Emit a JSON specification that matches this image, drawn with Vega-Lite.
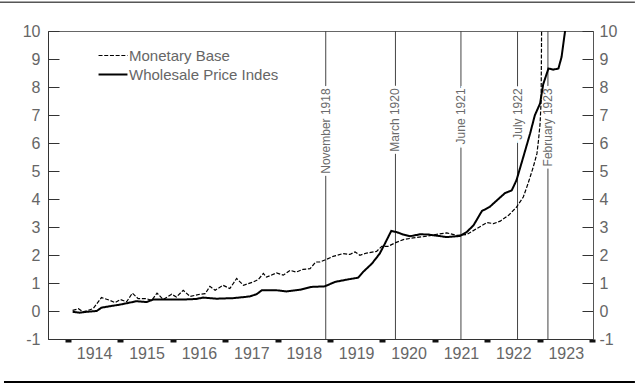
{
  "$schema": "https://vega.github.io/schema/vega-lite/v6.json",
  "width": 545,
  "height": 308,
  "autosize": {"type": "none"},
  "padding": {"left": 48, "top": 31, "right": 47, "bottom": 48},
  "config": {
    "view": {"stroke": "#666", "strokeWidth": 1},
    "font": "Liberation Sans",
    "axis": {"grid": false, "labelFont": "Liberation Sans", "labelFontSize": 16, "labelColor": "#666", "domainColor": "#333", "title": null}
  },
  "datasets": {
    "series": [
      {"t": 1914.09, "v": -0.03, "s": "Wholesale Price Indes"},
      {"t": 1914.23, "v": -0.06, "s": "Wholesale Price Indes"},
      {"t": 1914.36, "v": -0.03, "s": "Wholesale Price Indes"},
      {"t": 1914.55, "v": 0.0, "s": "Wholesale Price Indes"},
      {"t": 1914.64, "v": 0.12, "s": "Wholesale Price Indes"},
      {"t": 1914.80, "v": 0.17, "s": "Wholesale Price Indes"},
      {"t": 1915.00, "v": 0.23, "s": "Wholesale Price Indes"},
      {"t": 1915.18, "v": 0.30, "s": "Wholesale Price Indes"},
      {"t": 1915.31, "v": 0.35, "s": "Wholesale Price Indes"},
      {"t": 1915.50, "v": 0.32, "s": "Wholesale Price Indes"},
      {"t": 1915.63, "v": 0.41, "s": "Wholesale Price Indes"},
      {"t": 1915.88, "v": 0.41, "s": "Wholesale Price Indes"},
      {"t": 1916.20, "v": 0.41, "s": "Wholesale Price Indes"},
      {"t": 1916.45, "v": 0.43, "s": "Wholesale Price Indes"},
      {"t": 1916.58, "v": 0.48, "s": "Wholesale Price Indes"},
      {"t": 1916.84, "v": 0.44, "s": "Wholesale Price Indes"},
      {"t": 1917.16, "v": 0.46, "s": "Wholesale Price Indes"},
      {"t": 1917.47, "v": 0.52, "s": "Wholesale Price Indes"},
      {"t": 1917.60, "v": 0.60, "s": "Wholesale Price Indes"},
      {"t": 1917.70, "v": 0.74, "s": "Wholesale Price Indes"},
      {"t": 1917.98, "v": 0.74, "s": "Wholesale Price Indes"},
      {"t": 1918.17, "v": 0.70, "s": "Wholesale Price Indes"},
      {"t": 1918.43, "v": 0.76, "s": "Wholesale Price Indes"},
      {"t": 1918.65, "v": 0.86, "s": "Wholesale Price Indes"},
      {"t": 1918.90, "v": 0.88, "s": "Wholesale Price Indes"},
      {"t": 1919.10, "v": 1.04, "s": "Wholesale Price Indes"},
      {"t": 1919.32, "v": 1.12, "s": "Wholesale Price Indes"},
      {"t": 1919.54, "v": 1.19, "s": "Wholesale Price Indes"},
      {"t": 1919.63, "v": 1.39, "s": "Wholesale Price Indes"},
      {"t": 1919.80, "v": 1.69, "s": "Wholesale Price Indes"},
      {"t": 1919.95, "v": 2.05, "s": "Wholesale Price Indes"},
      {"t": 1920.05, "v": 2.41, "s": "Wholesale Price Indes"},
      {"t": 1920.17, "v": 2.86, "s": "Wholesale Price Indes"},
      {"t": 1920.27, "v": 2.82, "s": "Wholesale Price Indes"},
      {"t": 1920.40, "v": 2.73, "s": "Wholesale Price Indes"},
      {"t": 1920.53, "v": 2.67, "s": "Wholesale Price Indes"},
      {"t": 1920.72, "v": 2.74, "s": "Wholesale Price Indes"},
      {"t": 1920.88, "v": 2.73, "s": "Wholesale Price Indes"},
      {"t": 1921.00, "v": 2.70, "s": "Wholesale Price Indes"},
      {"t": 1921.23, "v": 2.64, "s": "Wholesale Price Indes"},
      {"t": 1921.48, "v": 2.68, "s": "Wholesale Price Indes"},
      {"t": 1921.61, "v": 2.82, "s": "Wholesale Price Indes"},
      {"t": 1921.74, "v": 3.06, "s": "Wholesale Price Indes"},
      {"t": 1921.90, "v": 3.57, "s": "Wholesale Price Indes"},
      {"t": 1922.05, "v": 3.72, "s": "Wholesale Price Indes"},
      {"t": 1922.25, "v": 4.06, "s": "Wholesale Price Indes"},
      {"t": 1922.34, "v": 4.21, "s": "Wholesale Price Indes"},
      {"t": 1922.47, "v": 4.31, "s": "Wholesale Price Indes"},
      {"t": 1922.56, "v": 4.67, "s": "Wholesale Price Indes"},
      {"t": 1922.69, "v": 5.50, "s": "Wholesale Price Indes"},
      {"t": 1922.82, "v": 6.34, "s": "Wholesale Price Indes"},
      {"t": 1922.91, "v": 6.99, "s": "Wholesale Price Indes"},
      {"t": 1923.01, "v": 7.41, "s": "Wholesale Price Indes"},
      {"t": 1923.07, "v": 8.10, "s": "Wholesale Price Indes"},
      {"t": 1923.17, "v": 8.66, "s": "Wholesale Price Indes"},
      {"t": 1923.26, "v": 8.62, "s": "Wholesale Price Indes"},
      {"t": 1923.36, "v": 8.66, "s": "Wholesale Price Indes"},
      {"t": 1923.42, "v": 9.07, "s": "Wholesale Price Indes"},
      {"t": 1923.48, "v": 9.90, "s": "Wholesale Price Indes"},
      {"t": 1923.50, "v": 10.2, "s": "Wholesale Price Indes"},
      {"t": 1914.09, "v": 0.02, "s": "Monetary Base"},
      {"t": 1914.20, "v": 0.08, "s": "Monetary Base"},
      {"t": 1914.29, "v": -0.03, "s": "Monetary Base"},
      {"t": 1914.48, "v": 0.08, "s": "Monetary Base"},
      {"t": 1914.64, "v": 0.48, "s": "Monetary Base"},
      {"t": 1914.80, "v": 0.38, "s": "Monetary Base"},
      {"t": 1914.90, "v": 0.30, "s": "Monetary Base"},
      {"t": 1915.00, "v": 0.41, "s": "Monetary Base"},
      {"t": 1915.12, "v": 0.33, "s": "Monetary Base"},
      {"t": 1915.23, "v": 0.64, "s": "Monetary Base"},
      {"t": 1915.34, "v": 0.44, "s": "Monetary Base"},
      {"t": 1915.50, "v": 0.44, "s": "Monetary Base"},
      {"t": 1915.60, "v": 0.38, "s": "Monetary Base"},
      {"t": 1915.70, "v": 0.64, "s": "Monetary Base"},
      {"t": 1915.82, "v": 0.41, "s": "Monetary Base"},
      {"t": 1915.98, "v": 0.60, "s": "Monetary Base"},
      {"t": 1916.07, "v": 0.50, "s": "Monetary Base"},
      {"t": 1916.20, "v": 0.74, "s": "Monetary Base"},
      {"t": 1916.33, "v": 0.52, "s": "Monetary Base"},
      {"t": 1916.52, "v": 0.60, "s": "Monetary Base"},
      {"t": 1916.62, "v": 0.62, "s": "Monetary Base"},
      {"t": 1916.71, "v": 0.88, "s": "Monetary Base"},
      {"t": 1916.81, "v": 0.74, "s": "Monetary Base"},
      {"t": 1916.96, "v": 0.92, "s": "Monetary Base"},
      {"t": 1917.09, "v": 0.80, "s": "Monetary Base"},
      {"t": 1917.22, "v": 1.16, "s": "Monetary Base"},
      {"t": 1917.35, "v": 0.92, "s": "Monetary Base"},
      {"t": 1917.54, "v": 1.04, "s": "Monetary Base"},
      {"t": 1917.63, "v": 1.12, "s": "Monetary Base"},
      {"t": 1917.73, "v": 1.34, "s": "Monetary Base"},
      {"t": 1917.79, "v": 1.21, "s": "Monetary Base"},
      {"t": 1917.98, "v": 1.36, "s": "Monetary Base"},
      {"t": 1918.11, "v": 1.28, "s": "Monetary Base"},
      {"t": 1918.24, "v": 1.45, "s": "Monetary Base"},
      {"t": 1918.36, "v": 1.39, "s": "Monetary Base"},
      {"t": 1918.49, "v": 1.49, "s": "Monetary Base"},
      {"t": 1918.62, "v": 1.51, "s": "Monetary Base"},
      {"t": 1918.73, "v": 1.75, "s": "Monetary Base"},
      {"t": 1918.81, "v": 1.75, "s": "Monetary Base"},
      {"t": 1918.94, "v": 1.85, "s": "Monetary Base"},
      {"t": 1919.06, "v": 1.95, "s": "Monetary Base"},
      {"t": 1919.25, "v": 2.05, "s": "Monetary Base"},
      {"t": 1919.38, "v": 2.02, "s": "Monetary Base"},
      {"t": 1919.48, "v": 2.11, "s": "Monetary Base"},
      {"t": 1919.57, "v": 1.99, "s": "Monetary Base"},
      {"t": 1919.70, "v": 2.07, "s": "Monetary Base"},
      {"t": 1919.89, "v": 2.13, "s": "Monetary Base"},
      {"t": 1919.99, "v": 2.31, "s": "Monetary Base"},
      {"t": 1920.11, "v": 2.31, "s": "Monetary Base"},
      {"t": 1920.24, "v": 2.43, "s": "Monetary Base"},
      {"t": 1920.40, "v": 2.55, "s": "Monetary Base"},
      {"t": 1920.59, "v": 2.61, "s": "Monetary Base"},
      {"t": 1920.85, "v": 2.67, "s": "Monetary Base"},
      {"t": 1921.04, "v": 2.74, "s": "Monetary Base"},
      {"t": 1921.23, "v": 2.79, "s": "Monetary Base"},
      {"t": 1921.42, "v": 2.70, "s": "Monetary Base"},
      {"t": 1921.61, "v": 2.73, "s": "Monetary Base"},
      {"t": 1921.80, "v": 2.94, "s": "Monetary Base"},
      {"t": 1922.00, "v": 3.16, "s": "Monetary Base"},
      {"t": 1922.12, "v": 3.12, "s": "Monetary Base"},
      {"t": 1922.25, "v": 3.21, "s": "Monetary Base"},
      {"t": 1922.41, "v": 3.42, "s": "Monetary Base"},
      {"t": 1922.56, "v": 3.71, "s": "Monetary Base"},
      {"t": 1922.69, "v": 4.07, "s": "Monetary Base"},
      {"t": 1922.78, "v": 4.55, "s": "Monetary Base"},
      {"t": 1922.88, "v": 5.14, "s": "Monetary Base"},
      {"t": 1922.95, "v": 5.62, "s": "Monetary Base"},
      {"t": 1922.98, "v": 6.10, "s": "Monetary Base"},
      {"t": 1923.01, "v": 6.69, "s": "Monetary Base"},
      {"t": 1923.03, "v": 7.50, "s": "Monetary Base"},
      {"t": 1923.04, "v": 10.3, "s": "Monetary Base"}
    ],
    "events": [
      {"t": 1918.92, "label": "November 1918"},
      {"t": 1920.25, "label": "March 1920"},
      {"t": 1921.50, "label": "June 1921"},
      {"t": 1922.58, "label": "July 1922"},
      {"t": 1923.16, "label": "February 1923"}
    ]
  },
  "resolve": {"axis": {"x": "independent", "y": "independent"}},
  "layer": [
    {
      "data": {"values": [{}]},
      "mark": {"type": "rule", "color": "#000", "strokeWidth": 1},
      "encoding": {
        "x": {"datum": 1912.70, "type": "quantitative", "scale": {"domain": [1913.62, 1924.02], "nice": false, "zero": false}, "axis": null},
        "x2": {"datum": 1924.82},
        "y": {"datum": 11.03, "type": "quantitative", "scale": {"domain": [-1, 10], "nice": false, "zero": false}, "axis": null}
      }
    },
    {
      "data": {"values": [{}]},
      "mark": {"type": "rule", "color": "#000", "strokeWidth": 2},
      "encoding": {
        "x": {"datum": 1912.78, "type": "quantitative", "axis": null},
        "x2": {"datum": 1924.82},
        "y": {"datum": -2.54, "type": "quantitative", "axis": null}
      }
    },
    {
      "data": {"name": "events"},
      "mark": {"type": "rule", "color": "#444", "strokeWidth": 1},
      "encoding": {
        "x": {"field": "t", "type": "quantitative", "axis": {"orient": "bottom", "values": [1914, 1915, 1916, 1917, 1918, 1919, 1920, 1921, 1922, 1923, 1924], "labels": false, "domain": false, "ticks": true, "tickSize": 3, "tickWidth": 6, "tickColor": "#111"}},
        "y": {"datum": -1, "type": "quantitative", "axis": {"orient": "right", "values": [-1, 0, 1, 2, 3, 4, 5, 6, 7, 8, 9, 10], "labelExpr": "'' + datum.value", "tickSize": -11, "tickColor": "#333", "labelPadding": 17, "domainColor": "#555"}},
        "y2": {"datum": 10}
      }
    },
    {
      "data": {"name": "events"},
      "mark": {"type": "text", "angle": -90, "align": "right", "baseline": "middle", "fontSize": 12, "font": "Liberation Sans", "fill": "white", "stroke": "white", "strokeWidth": 6},
      "encoding": {
        "x": {"field": "t", "type": "quantitative", "axis": null},
        "y": {"datum": 7.95, "type": "quantitative", "axis": null},
        "text": {"field": "label"}
      }
    },
    {
      "data": {"name": "events"},
      "mark": {"type": "text", "angle": -90, "align": "right", "baseline": "middle", "fontSize": 12, "font": "Liberation Sans", "fill": "#6a6a6a"},
      "encoding": {
        "x": {"field": "t", "type": "quantitative", "axis": null},
        "y": {"datum": 7.95, "type": "quantitative", "axis": null},
        "text": {"field": "label"}
      }
    },
    {
      "data": {"name": "series"},
      "mark": {"type": "line", "color": "#000", "clip": true},
      "encoding": {
        "x": {"field": "t", "type": "quantitative", "axis": {"orient": "bottom", "values": [1914.5, 1915.5, 1916.5, 1917.5, 1918.5, 1919.5, 1920.5, 1921.5, 1922.5, 1923.5], "labelExpr": "'' + floor(datum.value)", "ticks": false, "labelPadding": 6, "domainColor": "#333"}},
        "y": {"field": "v", "type": "quantitative", "axis": {"orient": "left", "values": [-1, 0, 1, 2, 3, 4, 5, 6, 7, 8, 9, 10], "labelExpr": "'' + datum.value", "tickSize": -11, "tickColor": "#333", "labelPadding": 19, "domainColor": "#333"}},
        "strokeDash": {"field": "s", "type": "nominal", "scale": {"domain": ["Monetary Base", "Wholesale Price Indes"], "range": [[4, 1.7], [1, 0]]}, "legend": {"orient": "none", "legendX": 55, "legendY": 15, "title": null, "symbolType": "M-1.67,0H1.67", "symbolSize": 300, "symbolStrokeColor": "#000", "labelFontSize": 15, "labelFont": "Liberation Sans", "labelColor": "#666", "labelOffset": 6, "rowPadding": 0.6, "padding": 0}},
        "strokeWidth": {"field": "s", "type": "nominal", "scale": {"domain": ["Monetary Base", "Wholesale Price Indes"], "range": [1.2, 2]}, "legend": {"orient": "none", "legendX": 55, "legendY": 15, "title": null, "symbolType": "M-1.67,0H1.67", "symbolSize": 300, "symbolStrokeColor": "#000", "labelFontSize": 15, "labelFont": "Liberation Sans", "labelColor": "#666", "labelOffset": 6, "rowPadding": 0.6, "padding": 0}},
        "detail": {"field": "s"}
      }
    }
  ]
}
